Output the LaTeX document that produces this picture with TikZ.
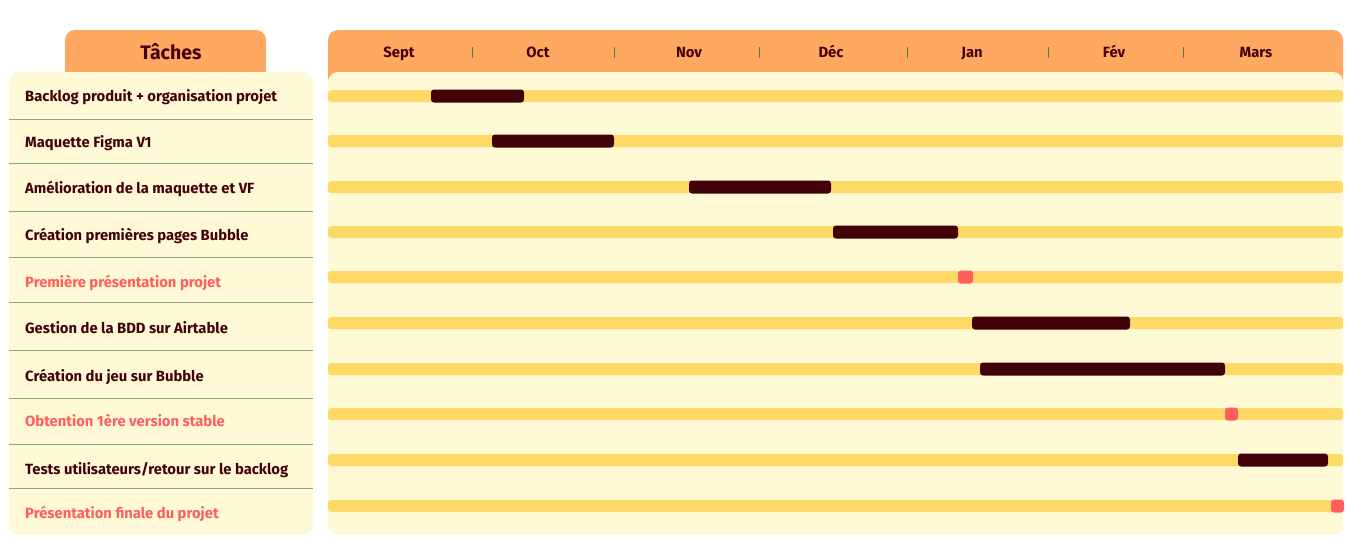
\documentclass[tikz,border=0pt]{standalone}
\usepackage{fontspec}
\setmainfont{Fira Sans}
\usetikzlibrary{positioning}
\definecolor{tabOrange}{HTML}{FFA960}
\definecolor{cream}{HTML}{FFF9D6}
\definecolor{trackYellow}{HTML}{FFD966}
\definecolor{maroon}{HTML}{420009}
\definecolor{coral}{HTML}{FF5E5E}
\definecolor{sepGreen}{HTML}{86A686}
\definecolor{tickGreen}{HTML}{4E7A4E}

\begin{document}
\begin{tikzpicture}[x=1pt, y=-1pt, font=\bfseries\fontsize{14.8}{16}\selectfont,
  tab/.style={fill=tabOrange, rounded corners=10pt},
  panel/.style={fill=cream, rounded corners=10pt},
  task/.style={anchor=base west, inner sep=0pt, text=maroon},
  jalontext/.style={task, text=coral},
  month/.style={anchor=base, inner sep=0pt, text=maroon},
  tickmark/.style={draw=tickGreen, line width=0.9pt},
  sepline/.style={draw=sepGreen, line width=0.9pt},
  track/.style={fill=trackYellow, rounded corners=3pt},
  work/.style={fill=maroon, rounded corners=3pt},
  jalon/.style={fill=coral, rounded corners=3pt}]
  \useasboundingbox (0,0) rectangle (1366,552);
  % headers and panels
  \fill[tab] (65,30) rectangle (266,95);
  \fill[tab] (328,30) rectangle (1343,95);
  \fill[panel] (9,72) rectangle (313,535);
  \fill[panel] (328,72) rectangle (1343,535);
  \node[month, font=\bfseries\fontsize{19.5}{22}\selectfont] (taches) at (171,59) {Tâches};
  % months
  \foreach \m/\x [count=\i] in {Sept/399, Oct/538, Nov/689, Déc/831, Jan/972, Fév/1114, Mars/1256}
    \node[month] (m\i) at (\x,57) {\m};
  \foreach \x in {472,614,759,907,1048,1183}
    \draw[tickmark] (\x,47) -- (\x,58);
  % task list
  \foreach \y in {119,163,211,257,302,350,398,444,488}
    \draw[sepline] (9,\y) -- (313,\y);
  \foreach \t/\y/\s [count=\i] in {
      {Backlog produit + organisation projet}/101/task,
      {Maquette Figma V1}/147/task,
      {Amélioration de la maquette et VF}/193/task,
      {Création premières pages Bubble}/240/task,
      {Première présentation projet}/287/jalontext,
      {Gestion de la BDD sur Airtable}/333/task,
      {Création du jeu sur Bubble}/381/task,
      {Obtention 1ère version stable}/426/jalontext,
      {Tests utilisateurs/retour sur le backlog}/474/task,
      {Présentation finale du projet}/518/jalontext}
    \node[\s] (t\i) at (25,\y) {\t};
  % tracks
  \foreach \y in {96,141,187,232,277,323,369,414,460,506}
    \fill[track] (328,\y-6) rectangle (1343,\y+6);
  % work bars
  \foreach \a/\b/\y in {431/524/96, 492/614/141, 689/831/187, 833/958/232,
      972/1130/323, 980/1225/369, 1238/1328/460}
    \fill[work] (\a,\y-6.5) rectangle (\b,\y+6.5);
  % milestones
  \foreach \a/\b/\y in {958/973/277, 1225/1238/414, 1331/1344/506}
    \fill[jalon] (\a,\y-6.5) rectangle (\b,\y+6.5);
\end{tikzpicture}
\end{document}
